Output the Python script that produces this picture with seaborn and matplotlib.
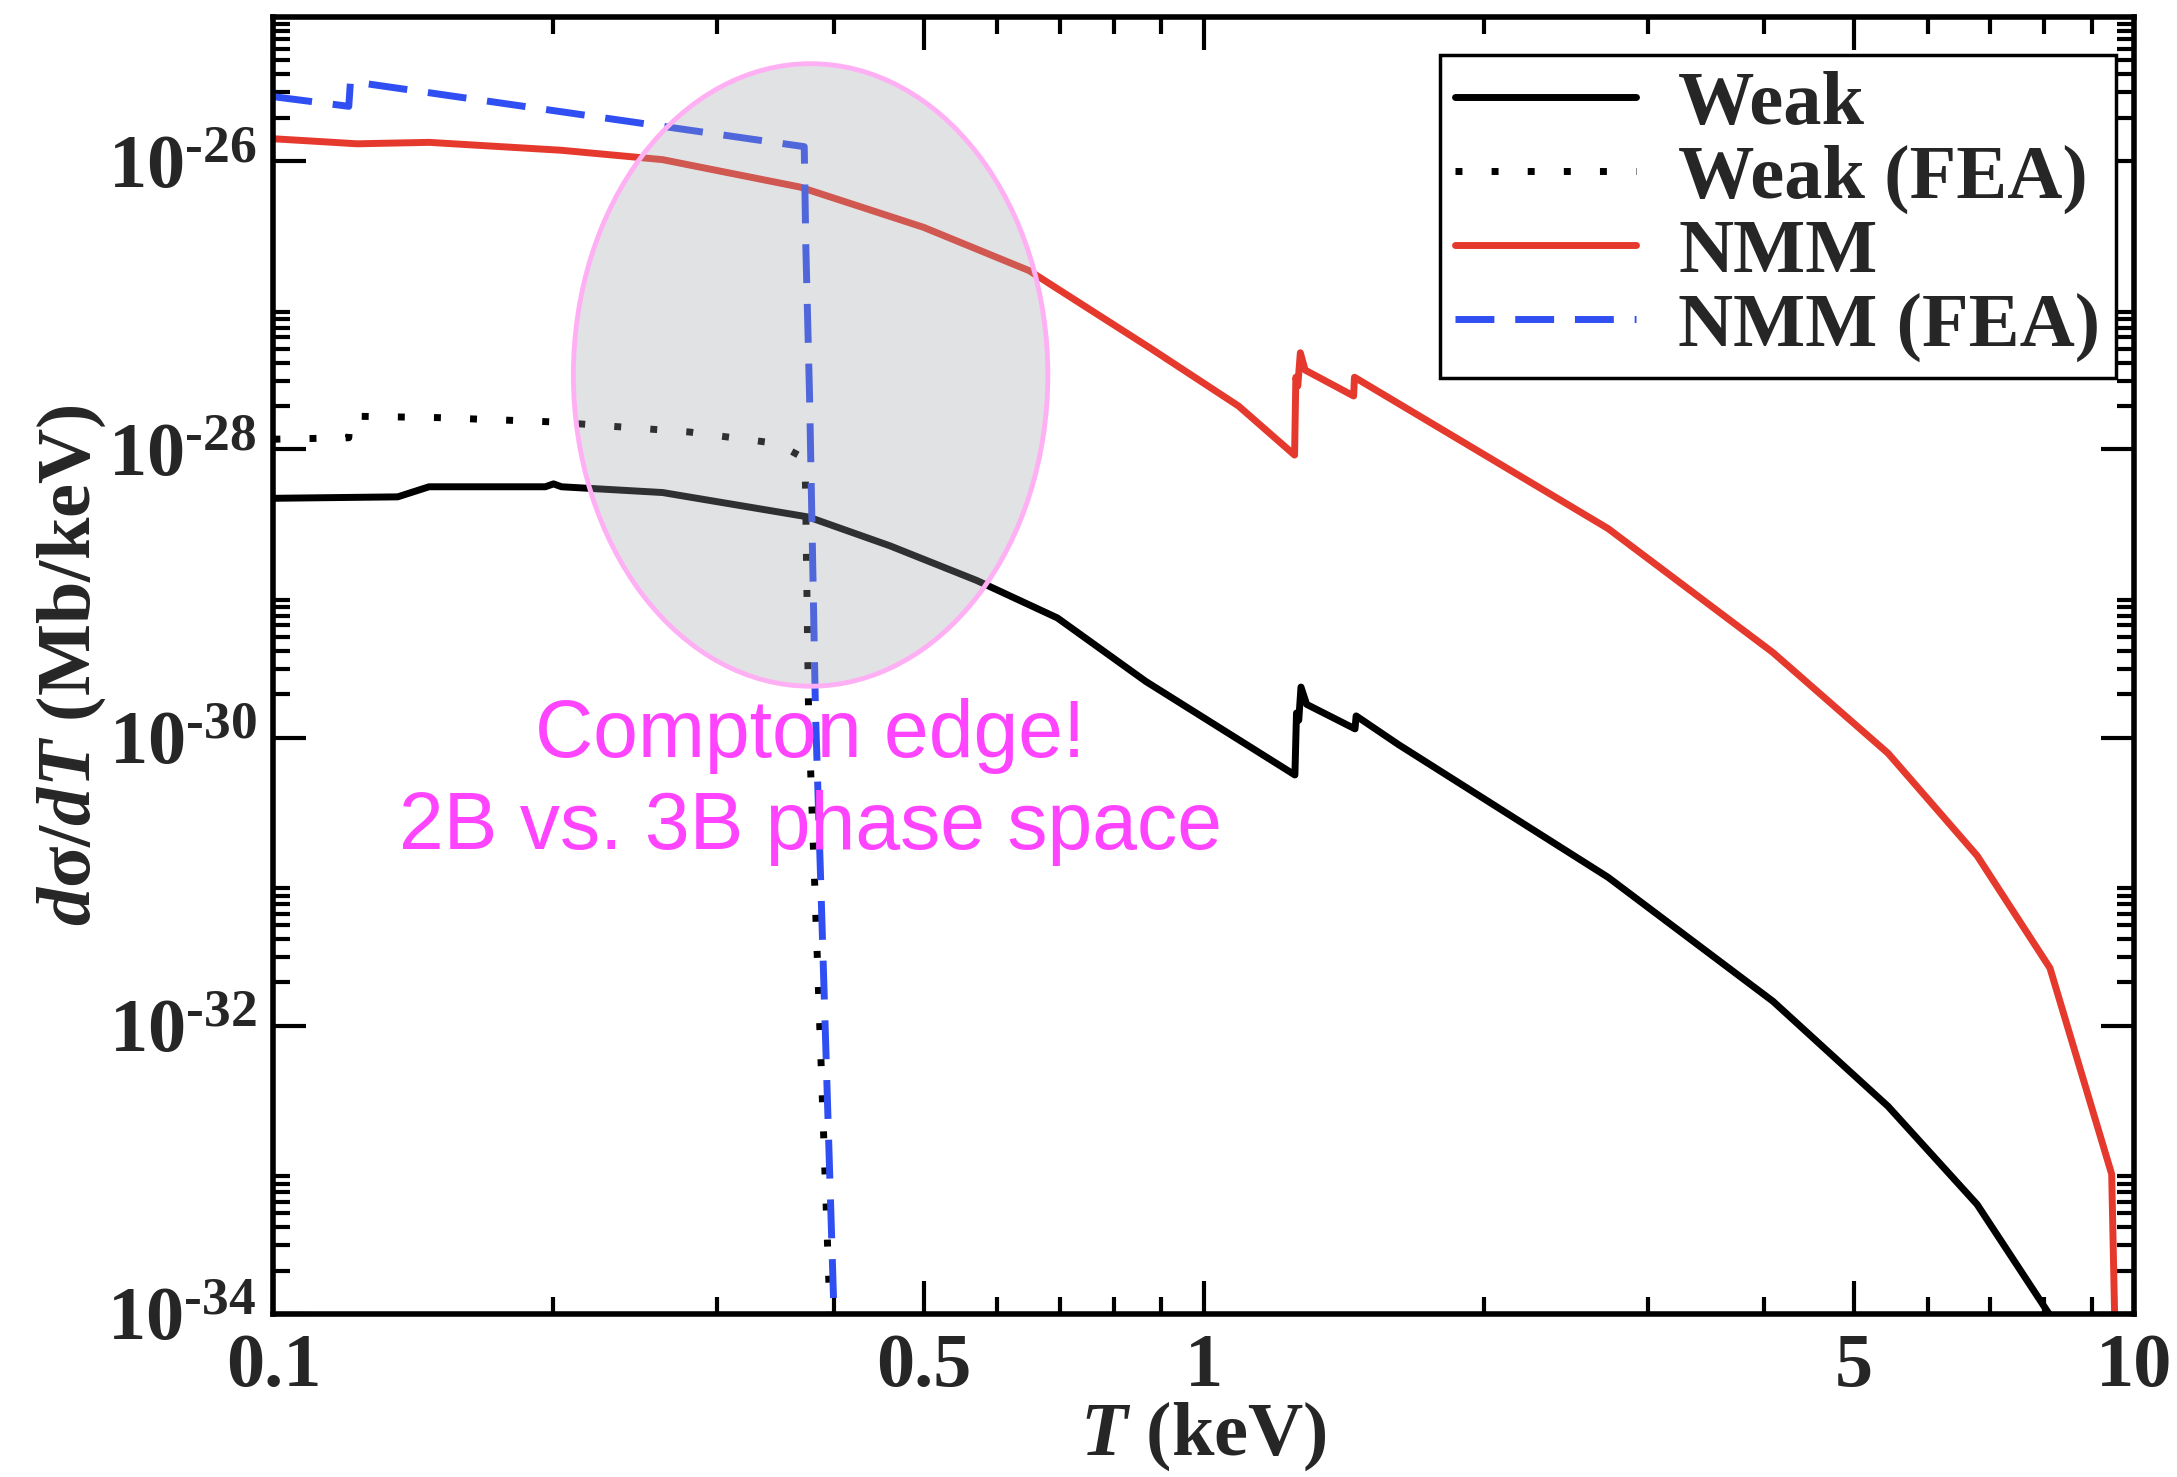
import numpy as np
import pandas as pd
import matplotlib
matplotlib.use("Agg")
import matplotlib.pyplot as plt
from matplotlib.patches import Ellipse
from matplotlib.ticker import FixedLocator, NullFormatter
import seaborn as sns

# ---------------- data (log10 of dsigma/dT in Mb/keV) ----------------
weak_x = [0.1, 0.136, 0.147, 0.196, 0.200, 0.204, 0.262, 0.376, 0.46, 0.57, 0.696,
          0.866, 1.253, 1.258, 1.265, 1.272, 1.29, 1.454, 1.458, 1.62, 2.72, 4.09,
          5.44, 6.78, 8.14, 8.5]
weak_log10 = [-28.34, -28.33, -28.26, -28.26, -28.24, -28.26, -28.30, -28.47, -28.67,
              -28.91, -29.17, -29.61, -30.26, -29.83, -29.88, -29.65, -29.77, -29.94,
              -29.85, -30.05, -30.97, -31.83, -32.56, -33.24, -34.02, -34.5]

weak_fea_x = [0.1, 0.1205, 0.1210, 0.15, 0.2, 0.28, 0.348, 0.369, 0.373, 0.376, 0.396, 0.399]
weak_fea_log10 = [-27.93, -27.92, -27.77, -27.78, -27.81, -27.88, -27.96, -28.05, -28.17,
                  -29.82, -33.9, -35.0]

nmm_x = [0.1, 0.123, 0.147, 0.204, 0.262, 0.368, 0.5, 0.649, 0.877, 1.09, 1.252,
         1.256, 1.262, 1.27, 1.285, 1.449, 1.452, 2.72, 4.09, 5.44, 6.78, 8.12, 9.46, 9.6]
nmm_log10 = [-25.845, -25.88, -25.87, -25.925, -25.99, -26.18, -26.46, -26.76, -27.30,
             -27.70, -28.04, -27.50, -27.56, -27.33, -27.45, -27.63, -27.50,
             -28.55, -29.41, -30.11, -30.82, -31.60, -33.03, -35.0]

nmm_fea_x = [0.1, 0.1205, 0.1210, 0.372, 0.3735, 0.377, 0.3825, 0.400, 0.403]
nmm_fea_log10 = [-25.553, -25.62, -25.447, -25.90, -26.6, -27.65, -29.82, -33.9, -35.0]

series_labels = ["Weak", "Weak (FEA)", "NMM", "NMM (FEA)"]
x_major = [0.1, 0.5, 1, 5, 10]
x_major_labels = ["0.1", "0.5", "1", "5", "10"]
x_minor = [0.2, 0.3, 0.4, 0.6, 0.7, 0.8, 0.9, 2, 3, 4, 6, 7, 8, 9]
y_exponents = [-34, -32, -30, -28, -26]
annotation = "Compton edge!\n2B vs. 3B phase space"

# ---------------- style ----------------
sns.set_theme(style="ticks")
plt.rcParams["font.family"] = ["Liberation Serif", "DejaVu Serif"]
plt.rcParams["font.weight"] = "bold"
plt.rcParams["mathtext.fontset"] = "custom"
plt.rcParams["mathtext.rm"] = "Liberation Serif:bold"
plt.rcParams["mathtext.bf"] = "Liberation Serif:bold"
plt.rcParams["mathtext.it"] = "Liberation Serif:italic:bold"

RED = "#e6392d"
BLUE = "#2f4ff2"
FS = 55

fig = plt.figure(figsize=(21.77, 14.77), dpi=100)
ax = fig.add_axes([0.1256, 0.1104, 0.8547, 0.8781])

def frame(xs, ys):
    return pd.DataFrame({"T": xs, "dsdT": 10.0 ** np.asarray(ys)})

lw = 5
sns.lineplot(data=frame(weak_x, weak_log10), x="T", y="dsdT", ax=ax, sort=False,
             estimator=None, color="black", lw=lw, label=series_labels[0])
sns.lineplot(data=frame(nmm_x, nmm_log10), x="T", y="dsdT", ax=ax, sort=False,
             estimator=None, color=RED, lw=lw, label=series_labels[2])
sns.lineplot(data=frame(weak_fea_x, weak_fea_log10), x="T", y="dsdT", ax=ax, sort=False,
             estimator=None, color="black", lw=lw, linestyle=(0, (1, 4.2)),
             label=series_labels[1])
sns.lineplot(data=frame(nmm_fea_x, nmm_fea_log10), x="T", y="dsdT", ax=ax, sort=False,
             estimator=None, color=BLUE, lw=lw, linestyle=(0, (5.6, 3.0)),
             label=series_labels[3])

ax.set_xscale("log")
ax.set_yscale("log")
ax.set_xlim(0.1, 10)
ax.set_ylim(1e-34, 1e-25)

# ticks
ax.xaxis.set_major_locator(FixedLocator(x_major))
ax.set_xticklabels(x_major_labels)
ax.xaxis.set_minor_locator(FixedLocator(x_minor))
ax.xaxis.set_minor_formatter(NullFormatter())
ax.yaxis.set_major_locator(FixedLocator([10.0 ** e for e in y_exponents]))
ax.set_yticklabels(["$10^{\u2010%d}$" % abs(e) for e in y_exponents])
ax.yaxis.set_minor_locator(FixedLocator([k * 10.0 ** e for e in range(-34, -24, 2)
                                         for k in range(2, 10)]))
ax.yaxis.set_minor_formatter(NullFormatter())
ax.tick_params(which="both", direction="in", top=True, right=True, width=3,
               color="black", labelsize=FS)
ax.tick_params(which="major", length=24)
ax.tick_params(which="minor", length=12)
ax.tick_params(axis="x", which="major", pad=14)
ax.tick_params(axis="y", which="major", pad=12)
for lab in ax.get_xticklabels() + ax.get_yticklabels():
    lab.set_fontweight("bold")
for sp in ax.spines.values():
    sp.set_linewidth(4)
    sp.set_color("black")
    sp.set_visible(True)

ax.set_xlabel(r"$T$ (keV)", fontsize=FS, fontweight="bold")
ax.set_ylabel(r"$d\mathrm{\sigma}/dT$ (Mb/keV)", fontsize=FS, fontweight="bold")
ax.xaxis.set_label_coords(0.5, -0.066)
ax.yaxis.set_label_coords(-0.089, 0.5)

# highlighted region
ell_fill = Ellipse((0.2887, 0.724), 0.255, 0.480, transform=ax.transAxes,
                   facecolor="#9ea0a6", alpha=0.3, edgecolor="none", zorder=5)
ell_edge = Ellipse((0.2887, 0.724), 0.255, 0.480, transform=ax.transAxes,
                   facecolor="none", edgecolor="#ffb0f4", lw=3.5, zorder=6)
ax.add_patch(ell_fill)
ax.add_patch(ell_edge)
ax.text(0.2887, 0.410, annotation, transform=ax.transAxes, ha="center", va="center",
        color="#ff44ff", fontsize=58, fontweight="normal", linespacing=1.28,
        family=["Liberation Sans", "DejaVu Sans"], zorder=7)

# legend
handles = ax.get_lines()
hmap = {h.get_label(): h for h in handles}
leg = ax.legend([hmap[l] for l in series_labels], series_labels, loc="upper right",
                bbox_to_anchor=(0.990, 0.9707), borderaxespad=0, fontsize=FS,
                frameon=True, fancybox=False, framealpha=1, edgecolor="black",
                handlelength=2.37, handletextpad=0.55, labelspacing=0.06,
                borderpad=0.2, prop={"family": "Liberation Serif", "weight": "bold",
                                     "size": FS})
leg.get_frame().set_linewidth(2.5)
leg.set_zorder(10)

fig.savefig("out.png", dpi=100, facecolor="white")
